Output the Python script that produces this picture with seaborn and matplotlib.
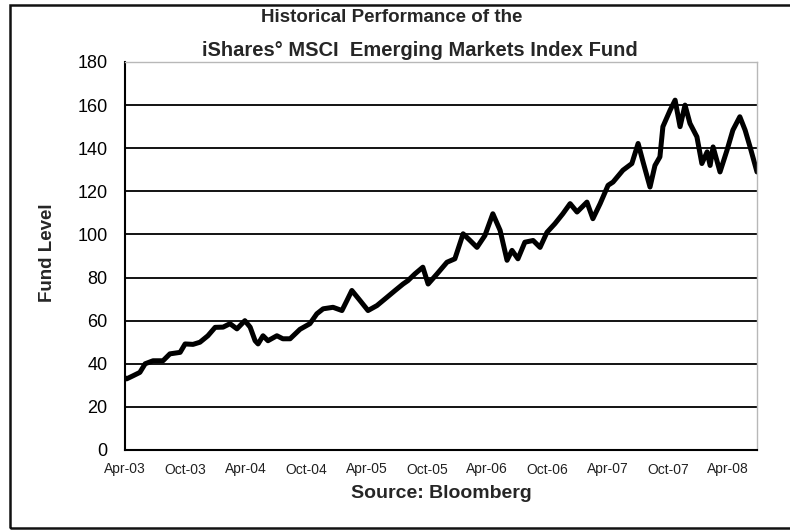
import matplotlib
matplotlib.use("Agg")
import matplotlib.pyplot as plt
import matplotlib.dates as mdates
from matplotlib import font_manager
from matplotlib.patches import Rectangle
import seaborn as sns
import pandas as pd

dates = [
    "2003-04-01", "2003-04-06", "2003-04-25", "2003-05-16", "2003-06-01", "2003-06-25",
    "2003-07-25", "2003-08-15", "2003-09-15", "2003-09-30", "2003-10-24", "2003-11-14",
    "2003-12-08", "2003-12-30", "2004-01-23", "2004-02-13", "2004-03-05", "2004-03-29",
    "2004-04-14", "2004-04-29", "2004-05-08", "2004-05-23", "2004-06-07", "2004-07-04",
    "2004-07-22", "2004-08-13", "2004-09-12", "2004-10-12", "2004-11-02", "2004-11-21",
    "2004-12-21", "2005-01-17", "2005-02-01", "2005-02-16", "2005-03-13", "2005-04-06",
    "2005-05-03", "2005-06-02", "2005-06-27", "2005-07-21", "2005-08-05", "2005-08-26",
    "2005-09-19", "2005-10-05", "2005-11-01", "2005-12-01", "2005-12-25", "2006-01-19",
    "2006-02-09", "2006-03-02", "2006-03-26", "2006-04-19", "2006-05-11", "2006-06-01",
    "2006-06-16", "2006-07-04", "2006-07-25", "2006-08-19", "2006-09-09", "2006-09-30",
    "2006-10-24", "2006-11-17", "2006-12-09", "2006-12-30", "2007-01-29", "2007-02-16",
    "2007-03-10", "2007-04-03", "2007-04-18", "2007-05-18", "2007-06-14", "2007-07-03",
    "2007-07-18", "2007-08-08", "2007-08-23", "2007-09-07", "2007-09-16", "2007-10-08",
    "2007-10-23", "2007-11-07", "2007-11-22", "2007-12-07", "2007-12-28", "2008-01-12",
    "2008-01-28", "2008-02-06", "2008-02-15", "2008-03-07", "2008-03-28", "2008-04-15",
    "2008-05-06", "2008-05-22", "2008-06-06", "2008-06-27",
]
fund_level = [
    33.5, 33.0, 34.4, 36.0, 40.0, 41.4,
    41.4, 44.6, 45.3, 49.2, 49.0, 50.0,
    53.0, 56.9, 57.0, 58.6, 56.2, 60.0,
    57.0, 50.7, 49.2, 53.0, 50.7, 53.0,
    51.6, 51.6, 56.0, 58.6, 63.2, 65.5,
    66.2, 64.7, 69.3, 74.0, 69.3, 64.7,
    67.0, 70.8, 74.0, 77.0, 78.6, 81.7,
    84.8, 77.0, 81.7, 87.1, 88.7, 100.3,
    97.2, 94.0, 99.5, 109.6, 101.9, 88.0,
    92.6, 88.7, 96.4, 97.2, 94.0, 101.0,
    105.0, 109.6, 114.3, 110.4, 115.0, 107.3,
    114.3, 122.8, 124.3, 129.8, 132.9, 142.2,
    133.6, 122.0, 132.0, 136.0, 150.0, 157.7,
    162.3, 150.0, 160.0, 151.5, 145.3, 132.9,
    138.3, 132.0, 140.6, 129.0, 139.0, 148.4,
    154.6, 148.4, 140.6, 129.0,
]
y_ticks = [0, 20, 40, 60, 80, 100, 120, 140, 160, 180]
x_tick_dates = ["2003-04-01", "2003-10-01", "2004-04-01", "2004-10-01", "2005-04-01",
                "2005-10-01", "2006-04-01", "2006-10-01", "2007-04-01", "2007-10-01",
                "2008-04-01"]
title_line1 = "Historical Performance of the"
title_line2 = "iShares° MSCI  Emerging Markets Index Fund"
x_label = "Source: Bloomberg"
y_label = "Fund Level"

df = pd.DataFrame({"date": pd.to_datetime(dates), "level": fund_level})

sns.set_style("white")
names = {f.name for f in font_manager.fontManager.ttflist}
narrow = "Liberation Sans Narrow" if "Liberation Sans Narrow" in names else "Liberation Sans"
plt.rcParams["font.family"] = ["Liberation Sans", "DejaVu Sans"]

fig = plt.figure(figsize=(7.9, 5.31), dpi=100)
ax = fig.add_axes([125 / 790, 1 - 450 / 531, (757 - 125) / 790, (450 - 62) / 531])

sns.lineplot(data=df, x="date", y="level", ax=ax, color="black", linewidth=3.6)

ax.set_ylim(0, 180)
ax.set_xlim(pd.Timestamp("2003-04-01"), pd.Timestamp("2008-06-27"))
ax.set_yticks(y_ticks)
ax.set_xticks(pd.to_datetime(x_tick_dates))
ax.xaxis.set_major_formatter(mdates.DateFormatter("%b-%y"))

for v in y_ticks[1:-1]:
    ax.axhline(v, color="black", linewidth=1.3, zorder=1)

for s in ["top", "right"]:
    ax.spines[s].set_color("#b8b8b8")
    ax.spines[s].set_linewidth(1.0)
for s in ["left", "bottom"]:
    ax.spines[s].set_color("black")
    ax.spines[s].set_linewidth(1.5)

ax.tick_params(axis="y", direction="inout", length=9, width=1.2, labelsize=13, pad=8,
               colors="black")
ax.tick_params(axis="x", direction="out", length=3, width=1.2, labelsize=10, pad=6,
               colors="black")
for lab in ax.get_xticklabels():
    lab.set_color("#222222")

ax.set_xlabel("")
ax.set_ylabel("")

fig.text(392 / 790, 1 - 18 / 531, title_line1, ha="center", va="center",
         fontsize=13.5, fontweight="bold", family=[narrow, "DejaVu Sans"])
fig.text(420 / 790, 1 - 50 / 531, title_line2, ha="center", va="center",
         fontsize=14.5, fontweight="bold", family=[narrow, "DejaVu Sans"])
fig.text(441 / 790, 1 - 494 / 531, x_label, ha="center", va="center",
         fontsize=14, fontweight="bold", family=[narrow, "DejaVu Sans"])
fig.text(47 / 790, 1 - 253 / 531, y_label, ha="center", va="center", rotation=90,
         fontsize=13.5, fontweight="bold", family=[narrow, "DejaVu Sans"])

frame = Rectangle((10 / 790, 1 - 528 / 531), 1.2, (528 - 5) / 531,
                  transform=fig.transFigure, fill=False, edgecolor="#111111",
                  linewidth=1.8, clip_on=False)
fig.patches.append(frame)

fig.savefig("out.png", dpi=100)
